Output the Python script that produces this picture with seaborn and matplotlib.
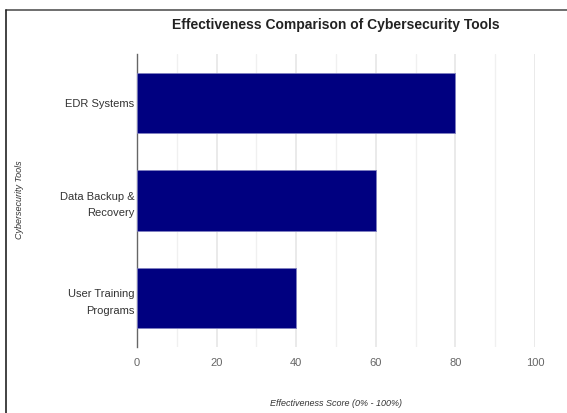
import matplotlib
matplotlib.use("Agg")
import matplotlib.pyplot as plt
import seaborn as sns
import pandas as pd
from matplotlib.lines import Line2D

# values
tools = ["EDR Systems", "Data Backup &\nRecovery", "User Training\nPrograms"]
scores = [80, 60, 40]
xticks = [0, 20, 40, 60, 80, 100]

df = pd.DataFrame({"Tool": tools, "Score": scores})

sns.set_style("white")
plt.rcParams["font.family"] = ["Liberation Sans", "DejaVu Sans"]

fig = plt.figure(figsize=(5.67, 4.13), dpi=100)
ax = fig.add_axes([137 / 567, 1 - 347 / 413, (535 - 137) / 567, (347 - 54) / 413])

sns.barplot(data=df, x="Score", y="Tool", orient="h", color="#000080", saturation=1,
            width=0.615, edgecolor="#8080c0", linewidth=0.6, ax=ax, zorder=3)

ax.set_xlim(0, 100)
ax.set_xticks(xticks)
ax.set_xticks(range(10, 100, 20), minor=True)
ax.grid(axis="x", which="major", color="#e6e6e6", linewidth=1.2, zorder=0)
ax.grid(axis="x", which="minor", color="#f0f0f0", linewidth=1, zorder=0)
ax.set_axisbelow(True)

for s in ["top", "right", "bottom"]:
    ax.spines[s].set_visible(False)
ax.spines["left"].set_color("#666666")
ax.spines["left"].set_linewidth(1)

ax.tick_params(axis="x", which="both", length=0, pad=8, labelsize=8, labelcolor="#666666")
ax.tick_params(axis="y", length=0, pad=2, labelsize=8, labelcolor="#333333")
for lab in ax.get_yticklabels():
    lab.set_linespacing(1.8)

ax.set_title("Effectiveness Comparison of Cybersecurity Tools", fontsize=10,
             fontweight="bold", color="#222222", pad=18)
ax.set_xlabel("Effectiveness Score (0% - 100%)", fontsize=6.5, style="italic",
              color="#333333", labelpad=22)
ax.set_ylabel("")
fig.text(20 / 567, 1 - 200 / 413, "Cybersecurity Tools", rotation=90, fontsize=6.5,
         style="italic", color="#333333", ha="center", va="center")

# frame lines seen at the top and left of the image
fig.add_artist(Line2D([6 / 567, 1], [1 - 10 / 413, 1 - 10 / 413], color="#555555", linewidth=1.2))
fig.add_artist(Line2D([6 / 567, 6 / 567], [0, 1 - 10 / 413], color="#222222", linewidth=1.2))

fig.savefig("out.png", dpi=100)
